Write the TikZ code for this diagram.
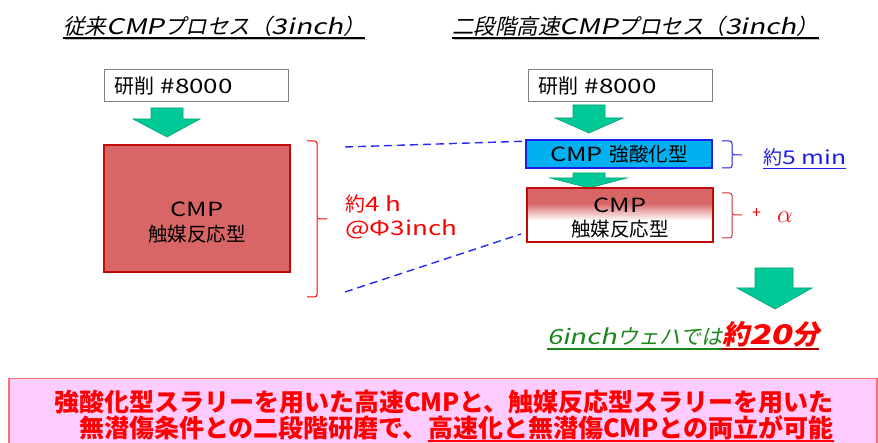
\documentclass[tikz,border=0pt]{standalone}
\usepackage{fontspec}
\setmainfont{Noto Sans CJK JP}
\newfontfamily\jpit{Noto Sans CJK JP}[FakeSlant=0.22]
\newfontfamily\wideup{Noto Sans CJK JP}[FakeStretch=1.3]
\newfontfamily\wideit{Noto Sans CJK JP}[FakeStretch=1.3, FakeSlant=0.22]
\newcommand\latu[1]{{\wideup #1}}
\newcommand\lati[1]{{\wideit #1}}
\usetikzlibrary{shadings}
\definecolor{arrowgreen}{RGB}{0,200,150}
\definecolor{arrowedge}{RGB}{0,165,115}
\definecolor{boxred}{RGB}{217,102,102}
\definecolor{edgered}{RGB}{195,10,10}
\definecolor{boxblue}{RGB}{0,176,240}
\definecolor{edgeblue}{RGB}{30,30,235}
\definecolor{dashblue}{RGB}{40,40,255}
\definecolor{pinkfill}{RGB}{255,204,255}
\definecolor{pinkedge}{RGB}{255,110,110}
\definecolor{txtgreen}{RGB}{25,135,25}
\definecolor{brred}{RGB}{200,50,50}
\pgfdeclareverticalshading{redfade}{100bp}{color(0bp)=(white); color(45bp)=(white); color(61bp)=(boxred); color(100bp)=(boxred)}
\begin{document}
\begin{tikzpicture}[x=1pt,y=-1pt,
  title/.style={font=\jpit\fontsize{21.5}{26}\selectfont, inner sep=0pt, anchor=west},
  grindbox/.style={draw=gray, line width=1pt, fill=white, minimum height=32pt, text width=164pt, inner xsep=10pt, inner ysep=0pt, align=left, font=\fontsize{20}{24}\selectfont},
  garrow/.style={fill=arrowgreen, draw=arrowedge, line width=0.6pt},
  boxtxt/.style={font=\fontsize{19.5}{25}\selectfont, inner sep=0pt, align=center},
  lbl/.style={font=\fontsize{20}{26}\selectfont, inner sep=0pt, anchor=west},
  bottomtxt/.style={font=\bfseries\fontsize{25}{28}\selectfont, text=red, inner sep=0pt}]
\useasboundingbox (0,0) rectangle (878,443);
\fill[white] (0,0) rectangle (878,443);

% titles
\coordinate (ul) at (0,38);
\node[title] (t1) at (63,26) {従来\lati{CMP}プロセス（\lati{3inch}）};
\node[title] (t2) at (452,26) {二段階高速\lati{CMP}プロセス（\lati{3inch}）};
\draw[gray!50, line width=1.2pt] ([shift={(1.5pt,-1.5pt)}]t1.west |- ul) -- ([shift={(1.5pt,-1.5pt)}]t1.east |- ul);
\draw[gray!50, line width=1.2pt] ([shift={(1.5pt,-1.5pt)}]t2.west |- ul) -- ([shift={(1.5pt,-1.5pt)}]t2.east |- ul);
\draw[line width=1.2pt] (t1.west |- ul) -- (t1.east |- ul);
\draw[line width=1.2pt] (t2.west |- ul) -- (t2.east |- ul);

% left column
\node[grindbox] (g1) at (196,86) {研削 \latu{\#8000}};
\fill[garrow] (151,108) -- (183,108) -- (183,119) -- (200,119) -- (167,137) -- (133,119) -- (151,119) -- cycle;
\node[draw=edgered, fill=boxred, line width=1.6pt, minimum width=186pt, minimum height=127pt, inner sep=0pt] (r1) at (197,208.5) {};
\node[boxtxt] (r1t) at (197,223) {\latu{CMP}\\触媒反応型};

% left bracket
\draw[red, line width=1pt, rounded corners=2.5pt] (307,141) -- (317,141) -- (317,219) -- (327,219);
\draw[red, line width=1pt, rounded corners=2.5pt] (307,297) -- (317,297) -- (317,219);
\node[lbl, text=red] (h4) at (345,204) {約\latu{4 h}};
\node[lbl, text=red] (phi) at (345,229) {\latu{@Φ3inch}};

% right column
\node[grindbox] (g2) at (620,86) {研削 \latu{\#8000}};
\fill[garrow] (573,105) -- (605,105) -- (605,118) -- (623,118) -- (589,133) -- (555,118) -- (573,118) -- cycle;
\node[draw=edgeblue, fill=boxblue, line width=1.6pt, minimum width=186pt, minimum height=28pt, inner sep=0pt, font=\fontsize{19.5}{24}\selectfont] (b1) at (619,154) {\latu{CMP}\hspace{7pt}強酸化型};
\fill[garrow] (573,173) -- (605,173) -- (605,178) -- (627,178) -- (589,188) -- (550,178) -- (573,178) -- cycle;
\node[draw=edgered, shading=redfade, line width=1.6pt, minimum width=186pt, minimum height=54pt, inner sep=0pt] (r2) at (620,215) {};
\node[boxtxt] (r2t) at (620,218) {\latu{CMP}\\[-1pt]触媒反応型};

% dashed guide lines
\coordinate (d1) at (345,147);
\coordinate (d2) at (345,292);
\coordinate (d3) at (521,234);
\draw[dashblue, line width=1.4pt, dash pattern=on 8pt off 5pt] (d1) -- ([yshift=-2pt]b1.north west);
\draw[dashblue, line width=1.4pt, dash pattern=on 8pt off 5pt] (d2) -- (d3);

% right brackets
\draw[edgeblue, line width=1pt, rounded corners=2.5pt] (722,141) -- (732,141) -- (732,155) -- (742,155);
\draw[edgeblue, line width=1pt, rounded corners=2.5pt] (722,168) -- (732,168) -- (732,155);
\node[lbl, text=edgeblue, font=\fontsize{19}{24}\selectfont] (m5) at (763,157) {約\latu{5 min}};
\draw[edgeblue, line width=0.8pt] ([yshift=-4pt]m5.base west) -- ([yshift=-4pt]m5.base east);
\draw[brred, line width=1pt, rounded corners=2.5pt] (722,193) -- (732,193) -- (732,215) -- (742,215);
\draw[brred, line width=1pt, rounded corners=2.5pt] (722,238) -- (732,238) -- (732,215);
\node[lbl, text=red, font=\fontsize{16}{20}\selectfont] (plus) at (752,214) {+};
\node[lbl, text=red, font=\fontsize{24}{28}\selectfont] (alpha) at (777,217) {$\alpha$};

% big arrow
\fill[garrow] (755,268) -- (793,268) -- (793,288) -- (812,288) -- (775,309) -- (737,288) -- (755,288) -- cycle;

% 6 inch result
\node[font=\jpit\fontsize{21}{24}\selectfont, text=txtgreen, inner sep=0pt, anchor=base west] (six) at (547,345) {\lati{6inch}ウェハでは};
\node[font=\jpit\bfseries\fontsize{27}{30}\selectfont, text=red, inner sep=0pt, anchor=base west] (twenty) at (six.base east) {約\lati{\bfseries 20}分};
\draw[txtgreen, line width=1.2pt] ([yshift=-4pt]six.base west) -- ([yshift=-4pt]six.base east);
\draw[red!70!black, line width=1.2pt] ([yshift=-4pt]twenty.base west) -- ([yshift=-4pt]twenty.base east);

% bottom note
\node[draw=pinkedge, fill=pinkfill, line width=1.5pt, minimum width=868pt, minimum height=72pt, inner sep=0pt, anchor=north west] (note) at (8,378) {};
\node[bottomtxt, anchor=base] (l1) at (444,411) {強酸化型スラリーを用いた高速CMPと、触媒反応型スラリーを用いた};
\node[bottomtxt, anchor=base east] (l2a) at (428,437) {無潜傷条件との二段階研磨で、};
\node[bottomtxt, anchor=base west] (l2b) at (l2a.base east) {高速化と無潜傷CMPとの両立が可能};
\draw[red, line width=1.5pt] ([yshift=-4pt]l2b.base west) -- ([yshift=-4pt]l2b.base east);
\end{tikzpicture}
\end{document}
